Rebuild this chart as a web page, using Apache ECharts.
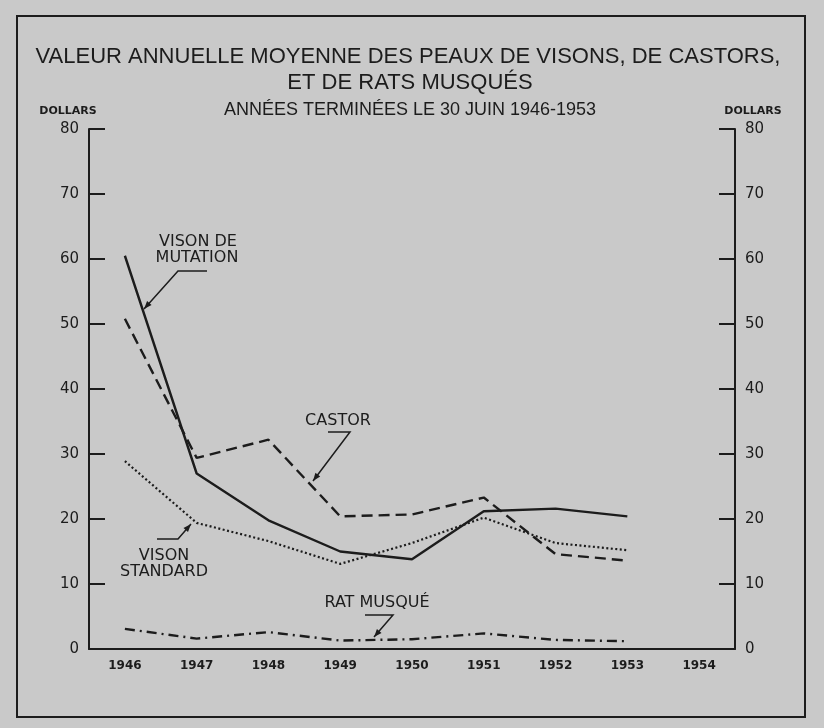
<!DOCTYPE html>
<html>
<head>
<meta charset="utf-8">
<title>Valeur annuelle moyenne des peaux</title>
<script src="https://cdn.jsdelivr.net/npm/echarts@6/dist/echarts.min.js"></script>
<style>
  html, body { margin: 0; padding: 0; background: #c9c9c9; }
  #main { width: 824px; height: 728px; }
</style>
</head>
<body>
<div id="main"></div>
<script>
// données (dollars)
var years = ['1946', '1947', '1948', '1949', '1950', '1951', '1952', '1953', '1954'];
var visonMutation = [60.5, 27, 19.8, 15, 13.8, 21.2, 21.6, 20.4];
var castor = [50.8, 29.4, 32.2, 20.4, 20.7, 23.3, 14.6, 13.6];
var visonStandard = [28.9, 19.4, 16.6, 13.1, 16.3, 20.2, 16.3, 15.2];
var ratMusque = [3.1, 1.6, 2.6, 1.3, 1.5, 2.4, 1.4, 1.2];
var yTicks = [0, 80, 10]; // min, max, intervalle

var ink = '#1c1c1c';
var labelFont = 'DejaVu Sans';

// trait de renvoi avec petite flèche au bout
function leader(points) {
  var n = points.length;
  var p = points[n - 1], q = points[n - 2];
  var dx = p[0] - q[0], dy = p[1] - q[1];
  var len = Math.sqrt(dx * dx + dy * dy);
  var ux = dx / len, uy = dy / len;
  var L = 8, W = 3;
  var bx = p[0] - ux * L, by = p[1] - uy * L;
  return [
    { type: 'polyline', z: 10, shape: { points: points },
      style: { stroke: ink, lineWidth: 1.5, fill: null } },
    { type: 'polygon', z: 10,
      shape: { points: [p, [bx - uy * W, by + ux * W], [bx + uy * W, by - ux * W]] },
      style: { fill: ink } }
  ];
}

function txt(x, y, s, size, weight, family) {
  return { type: 'text', z: 10, x: x, y: y,
    style: { text: s, fill: ink, font: (weight || 'normal') + ' ' + size + 'px "' + (family || labelFont) + '"',
      align: 'center', verticalAlign: 'middle' } };
}

var graphics = [
  { type: 'rect', z: 0, shape: { x: 17, y: 16, width: 788, height: 701 },
    style: { fill: null, stroke: ink, lineWidth: 2 } },
  txt(408, 57, 'VALEUR ANNUELLE MOYENNE DES PEAUX DE VISONS, DE CASTORS,', 22, 'normal', 'Liberation Sans'),
  txt(410, 83, 'ET DE RATS MUSQUÉS', 22, 'normal', 'Liberation Sans'),
  txt(410, 110, 'ANNÉES TERMINÉES LE 30 JUIN 1946-1953', 18, 'normal', 'Liberation Sans'),
  txt(68, 111, 'DOLLARS', 11, 'bold'),
  txt(753, 111, 'DOLLARS', 11, 'bold'),
  txt(198, 242, 'VISON DE', 16),
  txt(197, 258, 'MUTATION', 16),
  txt(338, 421, 'CASTOR', 16),
  txt(164, 556, 'VISON', 16),
  txt(164, 572, 'STANDARD', 16),
  txt(377, 603, 'RAT MUSQUÉ', 16)
];
graphics = graphics
  .concat(leader([[207, 271], [178, 271], [144, 309]]))
  .concat(leader([[328, 432], [350, 432], [313, 481]]))
  .concat(leader([[157, 539], [178, 539], [191, 524]]))
  .concat(leader([[365, 615], [393, 615], [374, 637]]));

function yAxisCfg(pos) {
  return {
    type: 'value', position: pos,
    min: yTicks[0], max: yTicks[1], interval: yTicks[2],
    splitLine: { show: false },
    axisLine: { show: true, lineStyle: { color: ink, width: 2 } },
    axisTick: { show: true, inside: true, length: 16, lineStyle: { color: ink, width: 2 } },
    axisLabel: { margin: 10, color: ink, fontFamily: labelFont, fontSize: 15 }
  };
}

function lineSeries(name, data, type, width) {
  return {
    name: name, type: 'line', data: data, symbol: 'none',
    lineStyle: { color: ink, width: width, type: type, cap: 'butt' },
    z: 5
  };
}

var option = {
  backgroundColor: '#c9c9c9',
  animation: false,
  grid: { left: 89, right: 89, top: 129, bottom: 79 },
  xAxis: {
    type: 'category', data: years, boundaryGap: true,
    axisLine: { lineStyle: { color: ink, width: 2 } },
    axisTick: { alignWithLabel: true, inside: true, length: 18, lineStyle: { color: ink, width: 2 } },
    axisLabel: { margin: 11, color: ink, fontFamily: labelFont, fontSize: 12, fontWeight: 'bold' }
  },
  yAxis: [yAxisCfg('left'), yAxisCfg('right')],
  series: [
    lineSeries('Vison de mutation', visonMutation, 'solid', 2.4),
    lineSeries('Castor', castor, [11, 6], 2.4),
    lineSeries('Vison standard', visonStandard, [2, 2.5], 2.2),
    lineSeries('Rat musqué', ratMusque, [10, 5, 2, 5], 2.4)
  ],
  graphic: graphics
};

var myChart = echarts.init(document.getElementById('main'));
myChart.setOption(option);
</script>
</body>
</html>
